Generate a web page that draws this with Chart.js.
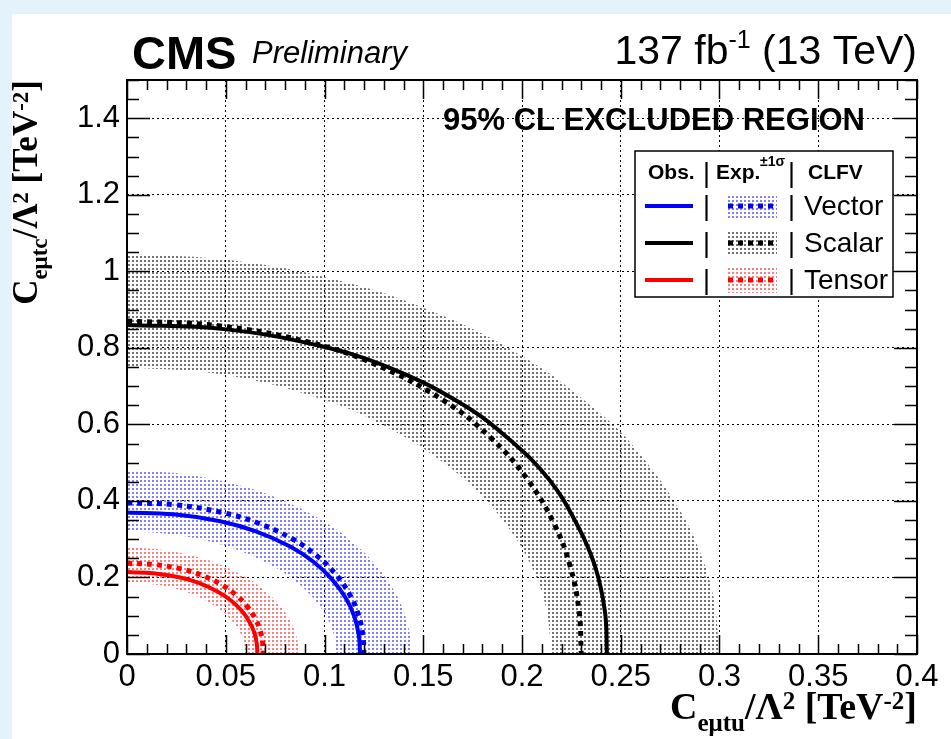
<!DOCTYPE html>
<html>
<head>
<meta charset="utf-8">
<script src="https://cdn.jsdelivr.net/npm/chart.js@4.4.1/dist/chart.umd.min.js"></script>
<style>
  html, body { margin: 0; padding: 0; background: #e4f2fc; }
  #wrap { width: 951px; height: 739px; }
</style>
</head>
<body>
<div id="wrap"><canvas id="limitChart" width="951" height="739"></canvas></div>
<script>
// 95% CL limits on the e-mu-t-q CLFV couplings (tu vs tc), 137 fb^-1, 13 TeV

// Scalar operator
const scalarObsX = [0, 0.049, 0.097, 0.134, 0.170, 0.194, 0.214, 0.228, 0.237, 0.242, 0.243];
const scalarObsY = [0.86, 0.849, 0.806, 0.746, 0.652, 0.559, 0.454, 0.337, 0.229, 0.111, 0];
const scalarExpX = [0, 0.046, 0.092, 0.1265, 0.161, 0.184, 0.2024, 0.2162, 0.2243, 0.2289, 0.23];
const scalarExpY = [0.87, 0.858, 0.815, 0.755, 0.660, 0.566, 0.459, 0.341, 0.231, 0.112, 0];
const scalarUpX = [0, 0.05, 0.1, 0.15, 0.2, 0.24, 0.26, 0.28, 0.29, 0.297, 0.30];
const scalarUpY = [1.045, 1.030, 0.985, 0.905, 0.779, 0.627, 0.521, 0.375, 0.268, 0.147, 0];
// lower edge of the band, then along the axis to the upper edge's end
const scalarDnX = [0, 0.05, 0.1, 0.13, 0.16, 0.18, 0.195, 0.205, 0.212, 0.215, 0.215, 0.30];
const scalarDnY = [0.75, 0.729, 0.664, 0.597, 0.501, 0.410, 0.316, 0.226, 0.125, 0, 0, 0];

// Vector operator
const vectorObsX = [0, 0.0236, 0.0472, 0.0649, 0.0826, 0.0944, 0.1038, 0.1109, 0.1151, 0.1174, 0.118];
const vectorObsY = [0.37, 0.365, 0.347, 0.321, 0.281, 0.241, 0.195, 0.145, 0.098, 0.048, 0];
const vectorExpX = [0, 0.024, 0.048, 0.066, 0.084, 0.096, 0.1056, 0.1128, 0.117, 0.1194, 0.12];
const vectorExpY = [0.395, 0.390, 0.370, 0.343, 0.300, 0.257, 0.209, 0.155, 0.105, 0.051, 0];
const vectorUpX = [0, 0.0288, 0.0576, 0.0792, 0.1008, 0.1152, 0.1267, 0.1354, 0.1404, 0.1433, 0.144];
const vectorUpY = [0.48, 0.470, 0.440, 0.401, 0.343, 0.288, 0.228, 0.164, 0.107, 0.048, 0];
const vectorDnX = [0, 0.0212, 0.0424, 0.0583, 0.0742, 0.0848, 0.0933, 0.0996, 0.1034, 0.1055, 0.106, 0.106, 0.144];
const vectorDnY = [0.32, 0.3135, 0.2933, 0.2673, 0.2285, 0.192, 0.152, 0.109, 0.071, 0.032, 0, 0, 0];

// Tensor operator
const tensorObsX = [0, 0.0132, 0.0264, 0.0363, 0.0462, 0.0528, 0.0581, 0.062, 0.0644, 0.0657, 0.066];
const tensorObsY = [0.214, 0.211, 0.2005, 0.1857, 0.1622, 0.1391, 0.1129, 0.0838, 0.0569, 0.0275, 0];
const tensorExpX = [0, 0.0138, 0.0276, 0.038, 0.0483, 0.0552, 0.0607, 0.0649, 0.0673, 0.0687, 0.069];
const tensorExpY = [0.237, 0.2338, 0.2221, 0.2056, 0.1797, 0.1541, 0.1251, 0.0928, 0.063, 0.0305, 0];
const tensorUpX = [0, 0.0174, 0.0348, 0.0479, 0.0609, 0.0696, 0.0766, 0.0818, 0.0848, 0.0866, 0.087];
const tensorUpY = [0.278, 0.2724, 0.2548, 0.2322, 0.1985, 0.1668, 0.1321, 0.0949, 0.0618, 0.0278, 0];
const tensorDnX = [0, 0.012, 0.024, 0.033, 0.042, 0.048, 0.0528, 0.0564, 0.0585, 0.0597, 0.06, 0.06, 0.087];
const tensorDnY = [0.187, 0.1832, 0.1714, 0.1562, 0.1335, 0.1122, 0.0888, 0.0638, 0.0416, 0.0187, 0, 0, 0];

const xTicks = [0, 0.05, 0.1, 0.15, 0.2, 0.25, 0.3, 0.35, 0.4];
const yTicks = [0, 0.2, 0.4, 0.6, 0.8, 1, 1.2, 1.4];
const legendRows = ['Vector', 'Scalar', 'Tensor'];

const BLUE = '#0000ff', BLACK = '#000000', RED = '#ff0000';
const SANS = '"Liberation Sans", Arial, Helvetica, sans-serif';
const SERIF = '"Liberation Serif", "Times New Roman", serif';

const canvas = document.getElementById('limitChart');
const ctx0 = canvas.getContext('2d');

// stippled fill used for the +-1 sigma bands
function dotPattern(color) {
  const c = document.createElement('canvas');
  c.width = 4; c.height = 4;
  const g = c.getContext('2d');
  g.fillStyle = color;
  g.fillRect(0, 0, 2, 2);
  return ctx0.createPattern(c, 'repeat');
}
const bandFill = {
  Scalar: dotPattern('rgba(0,0,0,0.55)'),
  Vector: dotPattern('rgba(0,0,255,0.5)'),
  Tensor: dotPattern('rgba(255,0,0,0.5)')
};

function pts(xs, ys) {
  return xs.map((x, i) => ({ x: x, y: ys[i] }));
}

const curve = {
  showLine: true, pointRadius: 0, pointHoverRadius: 0, tension: 0.4, fill: false
};

function band(label, xs, ys, target, color, order) {
  return Object.assign({}, curve, {
    label: label, data: pts(xs, ys), borderColor: 'rgba(0,0,0,0)', borderWidth: 1,
    fill: target === null ? false : { target: target }, backgroundColor: color, order: order
  });
}
function line(label, xs, ys, color, dashed, order) {
  return Object.assign({}, curve, {
    label: label, data: pts(xs, ys), borderColor: color,
    borderWidth: dashed ? 5 : 4, borderDash: dashed ? [5, 5] : [], order: order
  });
}

const datasets = [
  band('Scalar +1s', scalarUpX, scalarUpY, 1, bandFill.Scalar, 20),
  band('Scalar -1s', scalarDnX, scalarDnY, null, null, 19),
  band('Vector +1s', vectorUpX, vectorUpY, 3, bandFill.Vector, 18),
  band('Vector -1s', vectorDnX, vectorDnY, null, null, 17),
  band('Tensor +1s', tensorUpX, tensorUpY, 5, bandFill.Tensor, 16),
  band('Tensor -1s', tensorDnX, tensorDnY, null, null, 15),
  line('Scalar exp', scalarExpX, scalarExpY, BLACK, true, 6),
  line('Scalar obs', scalarObsX, scalarObsY, BLACK, false, 5),
  line('Vector exp', vectorExpX, vectorExpY, BLUE, true, 4),
  line('Vector obs', vectorObsX, vectorObsY, BLUE, false, 3),
  line('Tensor exp', tensorExpX, tensorExpY, RED, true, 2),
  line('Tensor obs', tensorObsX, tensorObsY, RED, false, 1)
];

// draws a row of text pieces with their own font and vertical shift
function drawRuns(ctx, runs, x, y, align) {
  let w = 0;
  runs.forEach(r => { ctx.font = r[1]; w += ctx.measureText(r[0]).width; });
  let cx = align === 'right' ? x - w : x;
  runs.forEach(r => {
    ctx.font = r[1];
    ctx.fillText(r[0], cx, y + (r[2] || 0));
    cx += ctx.measureText(r[0]).width;
  });
}

const pageBackground = {
  id: 'pageBackground',
  beforeDraw(chart) {
    const ctx = chart.ctx;
    ctx.save();
    ctx.fillStyle = '#e4f2fc';
    ctx.fillRect(0, 0, chart.width, chart.height);
    ctx.fillStyle = '#ffffff';
    ctx.fillRect(12, 14, chart.width - 12, chart.height - 14);
    ctx.restore();
  }
};

// frame with inward major/minor ticks on all four sides
const rootFrame = {
  id: 'rootFrame',
  afterDatasetsDraw(chart) {
    const ctx = chart.ctx, a = chart.chartArea, xs = chart.scales.x, ys = chart.scales.y;
    ctx.save();
    ctx.strokeStyle = '#000';
    ctx.lineWidth = 1.5;
    ctx.beginPath();
    for (let i = 0; i <= 40; i++) {
      const px = Math.round(xs.getPixelForValue(i / 100)) + 0.5;
      const len = i % 5 === 0 ? 19 : 10;
      ctx.moveTo(px, a.bottom); ctx.lineTo(px, a.bottom - len);
      ctx.moveTo(px, a.top); ctx.lineTo(px, a.top + len);
    }
    for (let i = 0; i <= 30; i++) {
      const py = Math.round(ys.getPixelForValue(i * 0.05)) + 0.5;
      const len = i % 4 === 0 ? 23 : 12;
      ctx.moveTo(a.left, py); ctx.lineTo(a.left + len, py);
      ctx.moveTo(a.right, py); ctx.lineTo(a.right - len, py);
    }
    ctx.stroke();
    ctx.lineWidth = 2;
    ctx.strokeRect(a.left, a.top, a.right - a.left, a.bottom - a.top);
    ctx.restore();
  }
};

const annotations = {
  id: 'annotations',
  afterDraw(chart) {
    const ctx = chart.ctx, a = chart.chartArea;
    ctx.save();
    ctx.fillStyle = '#000';
    ctx.textAlign = 'left';
    ctx.textBaseline = 'alphabetic';

    // header
    ctx.font = 'bold 47px ' + SANS;
    ctx.fillText('CMS', 132, 69);
    ctx.font = 'italic 31px ' + SANS;
    ctx.fillText('Preliminary', 252, 63);
    drawRuns(ctx, [
      ['137 fb', '41px ' + SANS, 0],
      ['-1', '25px ' + SANS, -16],
      [' (13 TeV)', '41px ' + SANS, 0]
    ], a.right, 64, 'right');

    ctx.font = 'bold 31px ' + SANS;
    ctx.fillText('95% CL EXCLUDED REGION', 443, 130);

    // axis titles
    const big = 'bold 38px ' + SERIF, small = 'bold 25px ' + SERIF;
    drawRuns(ctx, [
      ['C', big, 0], ['e\u03bctu', small, 12], ['/\u039b', big, 0], ['2', small, -10],
      [' [TeV', big, 0], ['-2', small, -10], [']', big, 0]
    ], a.right, 719, 'right');

    const bigY = 'bold 35px ' + SERIF, smallY = 'bold 23px ' + SERIF;
    ctx.save();
    ctx.translate(37, a.top);
    ctx.rotate(-Math.PI / 2);
    drawRuns(ctx, [
      ['C', bigY, 0], ['e\u03bctc', smallY, 10], ['/\u039b', bigY, 0], ['2', smallY, -9],
      [' [TeV', bigY, 0], ['-2', smallY, -9], [']', bigY, 0]
    ], 0, 0, 'right');
    ctx.restore();

    // legend table
    const bx = 635, by = 151, bw = 258, bh = 146;
    ctx.fillStyle = '#fff';
    ctx.fillRect(bx, by, bw, bh);
    ctx.strokeStyle = '#000';
    ctx.lineWidth = 1.5;
    ctx.strokeRect(bx, by, bw, bh);
    ctx.fillStyle = '#000';
    ctx.font = 'bold 21px ' + SANS;
    ctx.fillText('Obs.', 648, 179);
    ctx.fillText('Exp.', 716, 179);
    ctx.fillText('CLFV', 808, 179);
    ctx.font = 'bold 14px ' + SANS;
    ctx.fillText('\u00b11\u03c3', 760, 166);
    ctx.font = '27px ' + SANS;
    ctx.fillText('|', 703, 182);
    ctx.fillText('|', 788, 182);

    const colors = { Vector: BLUE, Scalar: BLACK, Tensor: RED };
    legendRows.forEach((name, i) => {
      const cy = 206 + i * 37;
      ctx.strokeStyle = colors[name];
      ctx.setLineDash([]);
      ctx.lineWidth = 4;
      ctx.beginPath(); ctx.moveTo(645, cy); ctx.lineTo(693, cy); ctx.stroke();
      ctx.fillStyle = bandFill[name];
      ctx.fillRect(726, cy - 12, 51, 25);
      ctx.lineWidth = 5;
      ctx.setLineDash([5, 5]);
      ctx.beginPath(); ctx.moveTo(728, cy); ctx.lineTo(778, cy); ctx.stroke();
      ctx.setLineDash([]);
      ctx.fillStyle = '#000';
      ctx.font = '27px ' + SANS;
      ctx.fillText('|', 703, cy + 9);
      ctx.fillText('|', 788, cy + 9);
      ctx.font = '28px ' + SANS;
      ctx.fillText(name, 804, cy + 9);
    });
    ctx.restore();
  }
};

function tickLabel(v) {
  return String(+Number(v).toFixed(2));
}

new Chart(canvas, {
  type: 'scatter',
  data: { datasets: datasets },
  plugins: [pageBackground, rootFrame, annotations],
  options: {
    responsive: false,
    animation: false,
    layout: { padding: { left: 0, top: 80, right: 34, bottom: 0 } },
    plugins: { legend: { display: false }, tooltip: { enabled: false } },
    scales: {
      x: {
        type: 'linear', min: 0, max: 0.4,
        afterBuildTicks(scale) { scale.ticks = xTicks.map(v => ({ value: v })); },
        afterFit(scale) { scale.height = 85; scale.paddingLeft = 0; scale.paddingRight = 0; },
        ticks: {
          autoSkip: false, maxRotation: 0, padding: 5, color: '#000',
          font: { family: SANS, size: 31 }, callback: tickLabel
        },
        grid: { color: '#000', lineWidth: 1, drawTicks: false },
        border: { display: false, dash: [2, 3] }
      },
      y: {
        type: 'linear', min: 0, max: 1.5,
        afterBuildTicks(scale) { scale.ticks = yTicks.map(v => ({ value: v })); },
        afterFit(scale) { scale.width = 127; scale.paddingTop = 0; scale.paddingBottom = 0; },
        ticks: {
          autoSkip: false, padding: 7, color: '#000',
          font: { family: SANS, size: 31 }, callback: tickLabel
        },
        grid: { color: '#000', lineWidth: 1, drawTicks: false },
        border: { display: false, dash: [2, 3] }
      }
    }
  }
});
</script>
</body>
</html>
